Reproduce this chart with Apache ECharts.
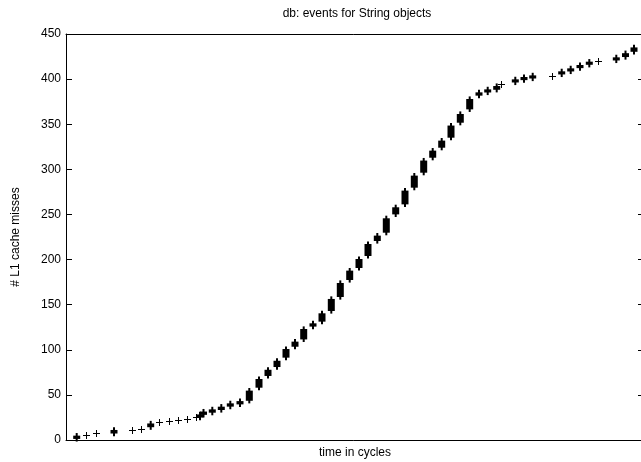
<!DOCTYPE html>
<html>
<head>
<meta charset="utf-8">
<script src="https://cdn.jsdelivr.net/npm/echarts@6/dist/echarts.min.js"></script>
<style>
  html, body { margin: 0; padding: 0; background: #fff; }
  #main { width: 641px; height: 462px; }
</style>
</head>
<body>
<div id="main"></div>
<script>
// thin single markers: x (time, arbitrary units) and y (# misses)
var thinX = [19.7, 30, 66.3, 75, 93.3, 103, 112, 121, 129.8, 435, 485.5, 532];
var thinY = [5.5, 7.4, 11.1, 12.2, 19.6, 21.1, 22.2, 23.6, 25.2, 394.7, 403.5, 420.1];

// bold clusters (overlapping markers): x, lowest y, highest y
var boldX  = [10.7, 48, 84.7, 134, 137.5, 146.3, 155.3, 164.3, 174, 183.3, 193, 202, 211, 220, 229, 237.7, 247, 256,
              265.3, 274.3, 283.7, 293, 302, 311.3, 320.3, 329.7, 339, 348.3, 357.7, 366.7, 375.7, 385, 394.3, 403.7,
              413, 421.7, 430.7, 449.3, 458, 466.7, 495.7, 504.7, 514, 523.3, 550.3, 559.5, 568];
var boldLo = [2.5, 8.5, 15.5, 26.2, 29.2, 31.6, 34.6, 38.3, 40.8, 44.8, 59.3, 72.3, 82.2, 92.6, 104.7, 112.8, 127, 132.5,
              144.3, 159.8, 178.7, 192, 205.3, 221.9, 231.1, 251.4, 262.5, 281, 297.6, 314.2, 325.3, 336.4, 353, 367.8,
              383, 386.5, 389.5, 397.6, 400.2, 402, 406.5, 409.8, 413.5, 417.2, 422, 425.8, 431.6];
var boldHi = [3.5, 9.8, 17, 27, 30.2, 32.6, 35.6, 39.3, 41.8, 53.4, 66.3, 76.5, 86.5, 99.5, 107.7, 121.7, 128, 139.1,
              155, 172.7, 186.4, 199.3, 215.9, 225.2, 244.4, 256.6, 275.1, 291.7, 308.4, 319.4, 330.5, 347.2, 360, 376.6,
              384, 387.3, 391, 398.4, 401, 402.8, 407.3, 410.6, 414.3, 418, 422.8, 427.4, 433.8];

var yTicks = [0, 50, 100, 150, 200, 250, 300, 350, 400, 450];

var thinData = thinX.map(function (x, i) { return [x, thinY[i]]; });
var boldData = boldX.map(function (x, i) { return [x, boldLo[i], boldHi[i]]; });

var chart = echarts.init(document.getElementById('main'));
var font = 'Liberation Sans, Arial, sans-serif';

function renderThin(params, api) {
  var p = api.coord([api.value(0), api.value(1)]);
  var x = Math.round(p[0]) + 0.5, y = Math.round(p[1]) + 0.5;
  return {
    type: 'group',
    children: [
      { type: 'line', shape: { x1: x - 3.5, y1: y, x2: x + 3.5, y2: y }, style: { stroke: '#000', lineWidth: 1 } },
      { type: 'line', shape: { x1: x, y1: y - 3.5, x2: x, y2: y + 3.5 }, style: { stroke: '#000', lineWidth: 1 } }
    ]
  };
}

function renderBold(params, api) {
  var x = api.value(0);
  var lo = api.coord([x, api.value(1)]);
  var hi = api.coord([x, api.value(2)]);
  var h = lo[1] - hi[1];
  return {
    type: 'group',
    children: [
      { type: 'rect', shape: { x: lo[0] - 3.5, y: hi[1] - 1.2, width: 7, height: h + 2.4 }, style: { fill: '#000' } },
      { type: 'rect', shape: { x: lo[0] - 1, y: hi[1] - 3.8, width: 2, height: h + 7.6 }, style: { fill: '#000' } }
    ]
  };
}

var blackLine = { show: true, onZero: false, lineStyle: { color: '#000', width: 1 } };

var option = {
  animation: false,
  backgroundColor: '#fff',
  textStyle: { fontFamily: font },
  title: {
    text: 'db: events for String objects',
    left: 352, top: 3, textAlign: 'center',
    textStyle: { fontFamily: font, fontSize: 12, fontWeight: 'normal', color: '#000' }
  },
  grid: {
    left: 66, width: 578, top: 34, height: 406,
    outerBoundsMode: 'none', containLabel: false
  },
  xAxis: [{
    type: 'value', position: 'bottom', min: 0, max: 578,
    name: 'time in cycles', nameLocation: 'middle', nameGap: 7,
    nameTextStyle: { fontFamily: font, fontSize: 12, color: '#000' },
    axisLine: blackLine,
    axisTick: { show: false },
    axisLabel: { show: false },
    splitLine: { show: false }
  }, {
    type: 'value', position: 'top', min: 0, max: 578,
    axisLine: blackLine,
    axisTick: { show: false },
    axisLabel: { show: false },
    splitLine: { show: false }
  }],
  yAxis: [{
    type: 'value', position: 'left', min: 0, max: 450, interval: 50,
    name: '# L1 cache misses', nameLocation: 'middle', nameGap: 44,
    nameTextStyle: { fontFamily: font, fontSize: 12, color: '#000' },
    axisLine: blackLine,
    axisTick: { show: true, inside: true, length: 6, lineStyle: { color: '#000' } },
    axisLabel: {
      fontFamily: font, fontSize: 12, color: '#000', margin: 5,
      formatter: function (v) { return yTicks.indexOf(v) >= 0 ? String(v) : ''; }
    },
    splitLine: { show: false }
  }, {
    type: 'value', position: 'right', min: 0, max: 450, interval: 50,
    axisLine: blackLine,
    axisTick: { show: true, inside: true, length: 6, lineStyle: { color: '#000' } },
    axisLabel: { show: false },
    splitLine: { show: false }
  }],
  series: [
    { type: 'custom', renderItem: renderBold, data: boldData, encode: { x: 0, y: [1, 2] }, silent: true },
    { type: 'custom', renderItem: renderThin, data: thinData, encode: { x: 0, y: 1 }, silent: true }
  ]
};

chart.setOption(option);
</script>
</body>
</html>
